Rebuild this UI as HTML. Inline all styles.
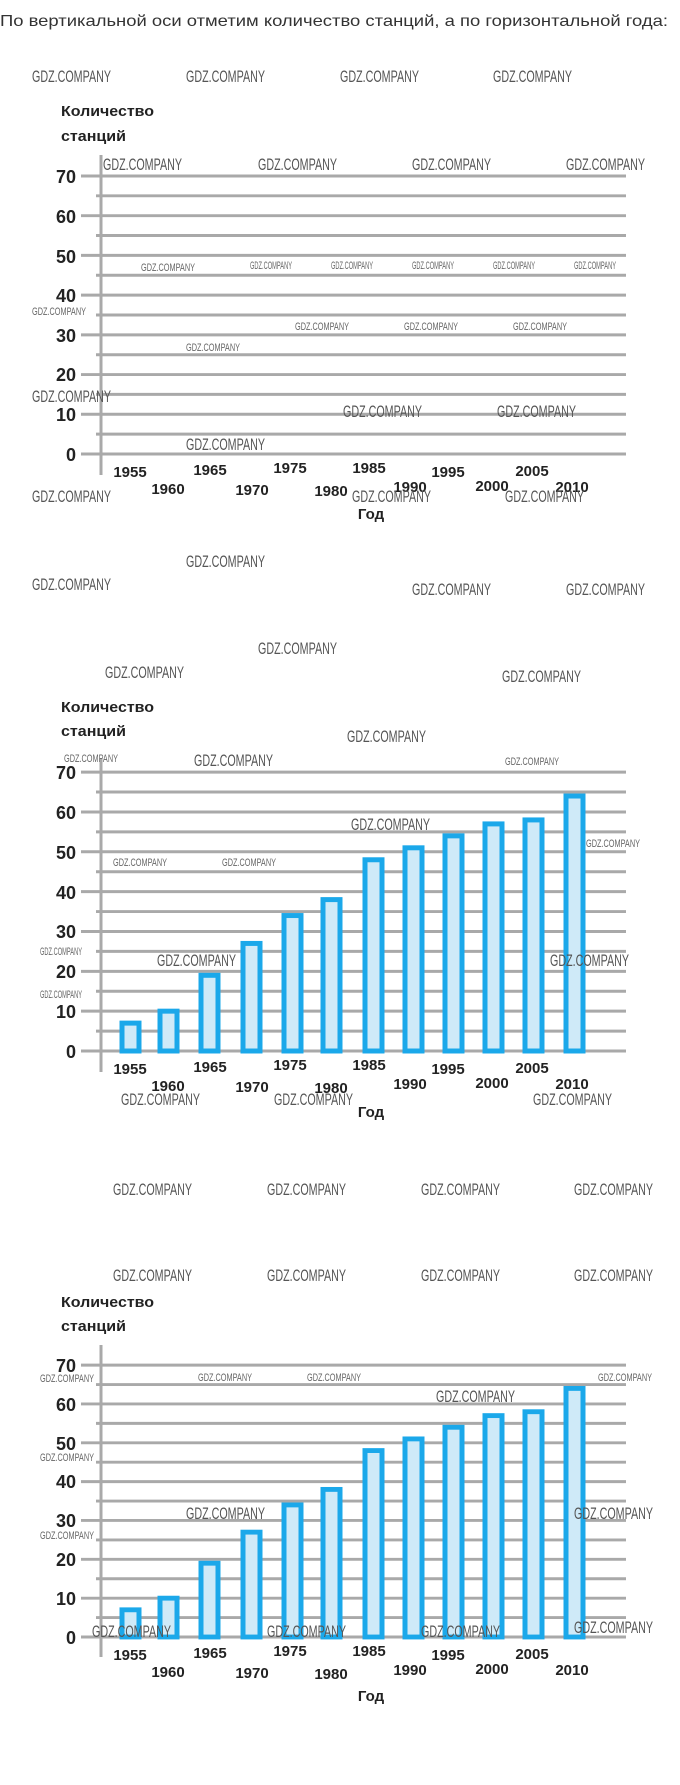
<!DOCTYPE html>
<html><head><meta charset="utf-8"><style>
html,body{margin:0;padding:0;background:#fff;}
svg{display:block;}
.t{font-family:"Liberation Sans",sans-serif;}
.wl{font-family:"Liberation Sans",sans-serif;font-size:17px;fill:#555;}
.ws{font-family:"Liberation Sans",sans-serif;font-size:11px;fill:#666;}
.yl{font-family:"Liberation Sans",sans-serif;font-size:18px;font-weight:bold;fill:#222;text-anchor:end;}
.yr{font-family:"Liberation Sans",sans-serif;font-size:15px;font-weight:bold;fill:#222;text-anchor:middle;}
.hd{font-family:"Liberation Sans",sans-serif;font-size:15px;font-weight:bold;fill:#222;}
.g line{stroke:#a9a9a9;stroke-width:3;}
.b rect{fill:#cfeaf8;stroke:#1ba8ea;stroke-width:5;}
</style></head><body>
<svg width="680" height="1785" viewBox="0 0 680 1785" xmlns="http://www.w3.org/2000/svg">
<text class="t" x="0" y="26" font-size="16" fill="#333" textLength="668" lengthAdjust="spacingAndGlyphs">По вертикальной оси отметим количество станций, а по горизонтальной года:</text>

<!-- ===== Chart 1 ===== -->
<text class="hd" x="61" y="116" textLength="93" lengthAdjust="spacingAndGlyphs">Количество</text>
<text class="hd" x="61" y="141" textLength="65" lengthAdjust="spacingAndGlyphs">станций</text>
<g class="g" transform="translate(0,454) scale(1,0.993)">
<line x1="81" y1="0" x2="626" y2="0"/><line x1="96" y1="-20" x2="626" y2="-20"/>
<line x1="81" y1="-40" x2="626" y2="-40"/><line x1="96" y1="-60" x2="626" y2="-60"/>
<line x1="81" y1="-80" x2="626" y2="-80"/><line x1="96" y1="-100" x2="626" y2="-100"/>
<line x1="81" y1="-120" x2="626" y2="-120"/><line x1="96" y1="-140" x2="626" y2="-140"/>
<line x1="81" y1="-160" x2="626" y2="-160"/><line x1="96" y1="-180" x2="626" y2="-180"/>
<line x1="81" y1="-200" x2="626" y2="-200"/><line x1="96" y1="-220" x2="626" y2="-220"/>
<line x1="81" y1="-240" x2="626" y2="-240"/><line x1="96" y1="-260" x2="626" y2="-260"/>
<line x1="81" y1="-280" x2="626" y2="-280"/>
</g>
<line x1="101" y1="155" x2="101" y2="475" stroke="#a9a9a9" stroke-width="3"/>
<text class="yl" x="76" y="461">0</text><text class="yl" x="76" y="421">10</text>
<text class="yl" x="76" y="381">20</text><text class="yl" x="76" y="342">30</text>
<text class="yl" x="76" y="302">40</text><text class="yl" x="76" y="263">50</text>
<text class="yl" x="76" y="223">60</text><text class="yl" x="76" y="183">70</text>
<text class="yr" x="130" y="477">1955</text><text class="yr" x="168" y="494">1960</text>
<text class="yr" x="210" y="475">1965</text><text class="yr" x="252" y="495">1970</text>
<text class="yr" x="290" y="473">1975</text><text class="yr" x="331" y="496">1980</text>
<text class="yr" x="369" y="473">1985</text><text class="yr" x="410" y="492">1990</text>
<text class="yr" x="448" y="477">1995</text><text class="yr" x="492" y="491">2000</text>
<text class="yr" x="532" y="476">2005</text><text class="yr" x="572" y="492">2010</text>
<text class="hd" x="371" y="519" text-anchor="middle">Год</text>
<g>
<text class="wl" x="32" y="82" textLength="79" lengthAdjust="spacingAndGlyphs">GDZ.COMPANY</text>
<text class="wl" x="186" y="82" textLength="79" lengthAdjust="spacingAndGlyphs">GDZ.COMPANY</text>
<text class="wl" x="340" y="82" textLength="79" lengthAdjust="spacingAndGlyphs">GDZ.COMPANY</text>
<text class="wl" x="493" y="82" textLength="79" lengthAdjust="spacingAndGlyphs">GDZ.COMPANY</text>
<text class="wl" x="103" y="170" textLength="79" lengthAdjust="spacingAndGlyphs">GDZ.COMPANY</text>
<text class="wl" x="258" y="170" textLength="79" lengthAdjust="spacingAndGlyphs">GDZ.COMPANY</text>
<text class="wl" x="412" y="170" textLength="79" lengthAdjust="spacingAndGlyphs">GDZ.COMPANY</text>
<text class="wl" x="566" y="170" textLength="79" lengthAdjust="spacingAndGlyphs">GDZ.COMPANY</text>
<text class="ws" x="141" y="271" font-size="13" textLength="54" lengthAdjust="spacingAndGlyphs">GDZ.COMPANY</text>
<text class="ws" x="250" y="269" font-size="9" textLength="42" lengthAdjust="spacingAndGlyphs">GDZ.COMPANY</text>
<text class="ws" x="331" y="269" font-size="9" textLength="42" lengthAdjust="spacingAndGlyphs">GDZ.COMPANY</text>
<text class="ws" x="412" y="269" font-size="9" textLength="42" lengthAdjust="spacingAndGlyphs">GDZ.COMPANY</text>
<text class="ws" x="493" y="269" font-size="9" textLength="42" lengthAdjust="spacingAndGlyphs">GDZ.COMPANY</text>
<text class="ws" x="574" y="269" font-size="9" textLength="42" lengthAdjust="spacingAndGlyphs">GDZ.COMPANY</text>
<text class="ws" x="32" y="315" font-size="13" textLength="54" lengthAdjust="spacingAndGlyphs">GDZ.COMPANY</text>
<text class="ws" x="295" y="330" font-size="13" textLength="54" lengthAdjust="spacingAndGlyphs">GDZ.COMPANY</text>
<text class="ws" x="404" y="330" font-size="13" textLength="54" lengthAdjust="spacingAndGlyphs">GDZ.COMPANY</text>
<text class="ws" x="513" y="330" font-size="13" textLength="54" lengthAdjust="spacingAndGlyphs">GDZ.COMPANY</text>
<text class="ws" x="186" y="351" font-size="13" textLength="54" lengthAdjust="spacingAndGlyphs">GDZ.COMPANY</text>
<text class="wl" x="32" y="402" textLength="79" lengthAdjust="spacingAndGlyphs">GDZ.COMPANY</text>
<text class="wl" x="343" y="417" textLength="79" lengthAdjust="spacingAndGlyphs">GDZ.COMPANY</text>
<text class="wl" x="497" y="417" textLength="79" lengthAdjust="spacingAndGlyphs">GDZ.COMPANY</text>
<text class="wl" x="186" y="450" textLength="79" lengthAdjust="spacingAndGlyphs">GDZ.COMPANY</text>
<text class="wl" x="32" y="502" textLength="79" lengthAdjust="spacingAndGlyphs">GDZ.COMPANY</text>
<text class="wl" x="352" y="502" textLength="79" lengthAdjust="spacingAndGlyphs">GDZ.COMPANY</text>
<text class="wl" x="505" y="502" textLength="79" lengthAdjust="spacingAndGlyphs">GDZ.COMPANY</text>
<text class="wl" x="186" y="567" textLength="79" lengthAdjust="spacingAndGlyphs">GDZ.COMPANY</text>
<text class="wl" x="32" y="590" textLength="79" lengthAdjust="spacingAndGlyphs">GDZ.COMPANY</text>
<text class="wl" x="412" y="595" textLength="79" lengthAdjust="spacingAndGlyphs">GDZ.COMPANY</text>
<text class="wl" x="566" y="595" textLength="79" lengthAdjust="spacingAndGlyphs">GDZ.COMPANY</text>
<text class="wl" x="258" y="654" textLength="79" lengthAdjust="spacingAndGlyphs">GDZ.COMPANY</text>
<text class="wl" x="105" y="678" textLength="79" lengthAdjust="spacingAndGlyphs">GDZ.COMPANY</text>
<text class="wl" x="502" y="682" textLength="79" lengthAdjust="spacingAndGlyphs">GDZ.COMPANY</text>
</g>

<!-- ===== Chart 2 ===== -->
<text class="hd" x="61" y="712" textLength="93" lengthAdjust="spacingAndGlyphs">Количество</text>
<text class="hd" x="61" y="736" textLength="65" lengthAdjust="spacingAndGlyphs">станций</text>
<g class="g" transform="translate(0,1051) scale(1,0.996)">
<line x1="81" y1="0" x2="626" y2="0"/><line x1="96" y1="-20" x2="626" y2="-20"/>
<line x1="81" y1="-40" x2="626" y2="-40"/><line x1="96" y1="-60" x2="626" y2="-60"/>
<line x1="81" y1="-80" x2="626" y2="-80"/><line x1="96" y1="-100" x2="626" y2="-100"/>
<line x1="81" y1="-120" x2="626" y2="-120"/><line x1="96" y1="-140" x2="626" y2="-140"/>
<line x1="81" y1="-160" x2="626" y2="-160"/><line x1="96" y1="-180" x2="626" y2="-180"/>
<line x1="81" y1="-200" x2="626" y2="-200"/><line x1="96" y1="-220" x2="626" y2="-220"/>
<line x1="81" y1="-240" x2="626" y2="-240"/><line x1="96" y1="-260" x2="626" y2="-260"/>
<line x1="81" y1="-280" x2="626" y2="-280"/>
</g>
<line x1="101" y1="758" x2="101" y2="1072" stroke="#a9a9a9" stroke-width="3"/>
<g class="b" transform="translate(0,1051) scale(1,0.996)">
<rect x="122" y="-28" width="17" height="28"/>
<rect x="160" y="-40" width="17" height="40"/>
<rect x="201" y="-76" width="17" height="76"/>
<rect x="243" y="-108" width="17" height="108"/>
<rect x="284" y="-136" width="17" height="136"/>
<rect x="323" y="-152" width="17" height="152"/>
<rect x="365" y="-192" width="17" height="192"/>
<rect x="405" y="-204" width="17" height="204"/>
<rect x="445" y="-216" width="17" height="216"/>
<rect x="485" y="-228" width="17" height="228"/>
<rect x="525" y="-232" width="17" height="232"/>
<rect x="566" y="-256" width="17" height="256"/>
</g>
<text class="yl" x="76" y="1058">0</text><text class="yl" x="76" y="1018">10</text>
<text class="yl" x="76" y="978">20</text><text class="yl" x="76" y="938">30</text>
<text class="yl" x="76" y="899">40</text><text class="yl" x="76" y="859">50</text>
<text class="yl" x="76" y="819">60</text><text class="yl" x="76" y="779">70</text>
<text class="yr" x="130" y="1074">1955</text><text class="yr" x="168" y="1091">1960</text>
<text class="yr" x="210" y="1072">1965</text><text class="yr" x="252" y="1092">1970</text>
<text class="yr" x="290" y="1070">1975</text><text class="yr" x="331" y="1093">1980</text>
<text class="yr" x="369" y="1070">1985</text><text class="yr" x="410" y="1089">1990</text>
<text class="yr" x="448" y="1074">1995</text><text class="yr" x="492" y="1088">2000</text>
<text class="yr" x="532" y="1073">2005</text><text class="yr" x="572" y="1089">2010</text>
<text class="hd" x="371" y="1117" text-anchor="middle">Год</text>
<g>
<text class="ws" x="64" y="762" textLength="54" font-size="12" lengthAdjust="spacingAndGlyphs">GDZ.COMPANY</text>
<text class="wl" x="194" y="766" textLength="79" lengthAdjust="spacingAndGlyphs">GDZ.COMPANY</text>
<text class="wl" x="347" y="742" textLength="79" lengthAdjust="spacingAndGlyphs">GDZ.COMPANY</text>
<text class="ws" x="505" y="765" textLength="54" font-size="12" lengthAdjust="spacingAndGlyphs">GDZ.COMPANY</text>
<text class="wl" x="351" y="830" textLength="79" lengthAdjust="spacingAndGlyphs">GDZ.COMPANY</text>
<text class="ws" x="586" y="847" textLength="54" font-size="13" lengthAdjust="spacingAndGlyphs">GDZ.COMPANY</text>
<text class="ws" x="113" y="866" textLength="54" font-size="12" lengthAdjust="spacingAndGlyphs">GDZ.COMPANY</text>
<text class="ws" x="222" y="866" textLength="54" font-size="12" lengthAdjust="spacingAndGlyphs">GDZ.COMPANY</text>
<text class="ws" x="40" y="955" textLength="42" font-size="9" lengthAdjust="spacingAndGlyphs">GDZ.COMPANY</text>
<text class="wl" x="157" y="966" textLength="79" lengthAdjust="spacingAndGlyphs">GDZ.COMPANY</text>
<text class="wl" x="550" y="966" textLength="79" lengthAdjust="spacingAndGlyphs">GDZ.COMPANY</text>
<text class="ws" x="40" y="998" textLength="42" font-size="9" lengthAdjust="spacingAndGlyphs">GDZ.COMPANY</text>
<text class="wl" x="121" y="1105" textLength="79" lengthAdjust="spacingAndGlyphs">GDZ.COMPANY</text>
<text class="wl" x="274" y="1105" textLength="79" lengthAdjust="spacingAndGlyphs">GDZ.COMPANY</text>
<text class="wl" x="533" y="1105" textLength="79" lengthAdjust="spacingAndGlyphs">GDZ.COMPANY</text>
<text class="wl" x="113" y="1195" textLength="79" lengthAdjust="spacingAndGlyphs">GDZ.COMPANY</text>
<text class="wl" x="267" y="1195" textLength="79" lengthAdjust="spacingAndGlyphs">GDZ.COMPANY</text>
<text class="wl" x="421" y="1195" textLength="79" lengthAdjust="spacingAndGlyphs">GDZ.COMPANY</text>
<text class="wl" x="574" y="1195" textLength="79" lengthAdjust="spacingAndGlyphs">GDZ.COMPANY</text>
<text class="wl" x="113" y="1281" textLength="79" lengthAdjust="spacingAndGlyphs">GDZ.COMPANY</text>
<text class="wl" x="267" y="1281" textLength="79" lengthAdjust="spacingAndGlyphs">GDZ.COMPANY</text>
<text class="wl" x="421" y="1281" textLength="79" lengthAdjust="spacingAndGlyphs">GDZ.COMPANY</text>
<text class="wl" x="574" y="1281" textLength="79" lengthAdjust="spacingAndGlyphs">GDZ.COMPANY</text>
</g>

<!-- ===== Chart 3 ===== -->
<text class="hd" x="61" y="1307" textLength="93" lengthAdjust="spacingAndGlyphs">Количество</text>
<text class="hd" x="61" y="1331" textLength="65" lengthAdjust="spacingAndGlyphs">станций</text>
<g class="g" transform="translate(0,1637) scale(1,0.971)">
<line x1="81" y1="0" x2="626" y2="0"/><line x1="96" y1="-20" x2="626" y2="-20"/>
<line x1="81" y1="-40" x2="626" y2="-40"/><line x1="96" y1="-60" x2="626" y2="-60"/>
<line x1="81" y1="-80" x2="626" y2="-80"/><line x1="96" y1="-100" x2="626" y2="-100"/>
<line x1="81" y1="-120" x2="626" y2="-120"/><line x1="96" y1="-140" x2="626" y2="-140"/>
<line x1="81" y1="-160" x2="626" y2="-160"/><line x1="96" y1="-180" x2="626" y2="-180"/>
<line x1="81" y1="-200" x2="626" y2="-200"/><line x1="96" y1="-220" x2="626" y2="-220"/>
<line x1="81" y1="-240" x2="626" y2="-240"/><line x1="96" y1="-260" x2="626" y2="-260"/>
<line x1="81" y1="-280" x2="626" y2="-280"/>
</g>
<line x1="101" y1="1345" x2="101" y2="1657" stroke="#a9a9a9" stroke-width="3"/>
<g class="b" transform="translate(0,1637) scale(1,0.971)">
<rect x="122" y="-28" width="17" height="28"/>
<rect x="160" y="-40" width="17" height="40"/>
<rect x="201" y="-76" width="17" height="76"/>
<rect x="243" y="-108" width="17" height="108"/>
<rect x="284" y="-136" width="17" height="136"/>
<rect x="323" y="-152" width="17" height="152"/>
<rect x="365" y="-192" width="17" height="192"/>
<rect x="405" y="-204" width="17" height="204"/>
<rect x="445" y="-216" width="17" height="216"/>
<rect x="485" y="-228" width="17" height="228"/>
<rect x="525" y="-232" width="17" height="232"/>
<rect x="566" y="-256" width="17" height="256"/>
</g>
<text class="yl" x="76" y="1644">0</text><text class="yl" x="76" y="1605">10</text>
<text class="yl" x="76" y="1566">20</text><text class="yl" x="76" y="1527">30</text>
<text class="yl" x="76" y="1488">40</text><text class="yl" x="76" y="1450">50</text>
<text class="yl" x="76" y="1411">60</text><text class="yl" x="76" y="1372">70</text>
<text class="yr" x="130" y="1660">1955</text><text class="yr" x="168" y="1677">1960</text>
<text class="yr" x="210" y="1658">1965</text><text class="yr" x="252" y="1678">1970</text>
<text class="yr" x="290" y="1656">1975</text><text class="yr" x="331" y="1679">1980</text>
<text class="yr" x="369" y="1656">1985</text><text class="yr" x="410" y="1675">1990</text>
<text class="yr" x="448" y="1660">1995</text><text class="yr" x="492" y="1674">2000</text>
<text class="yr" x="532" y="1659">2005</text><text class="yr" x="572" y="1675">2010</text>
<text class="hd" x="371" y="1701" text-anchor="middle">Год</text>
<g>
<text class="ws" x="40" y="1382" textLength="54" font-size="12" lengthAdjust="spacingAndGlyphs">GDZ.COMPANY</text>
<text class="ws" x="198" y="1381" textLength="54" font-size="12" lengthAdjust="spacingAndGlyphs">GDZ.COMPANY</text>
<text class="ws" x="307" y="1381" textLength="54" font-size="12" lengthAdjust="spacingAndGlyphs">GDZ.COMPANY</text>
<text class="ws" x="598" y="1381" textLength="54" font-size="12" lengthAdjust="spacingAndGlyphs">GDZ.COMPANY</text>
<text class="wl" x="436" y="1402" textLength="79" lengthAdjust="spacingAndGlyphs">GDZ.COMPANY</text>
<text class="ws" x="40" y="1461" textLength="54" font-size="12" lengthAdjust="spacingAndGlyphs">GDZ.COMPANY</text>
<text class="wl" x="186" y="1519" textLength="79" lengthAdjust="spacingAndGlyphs">GDZ.COMPANY</text>
<text class="wl" x="574" y="1519" textLength="79" lengthAdjust="spacingAndGlyphs">GDZ.COMPANY</text>
<text class="ws" x="40" y="1539" textLength="54" font-size="12" lengthAdjust="spacingAndGlyphs">GDZ.COMPANY</text>
<text class="wl" x="92" y="1637" textLength="79" lengthAdjust="spacingAndGlyphs">GDZ.COMPANY</text>
<text class="wl" x="267" y="1637" textLength="79" lengthAdjust="spacingAndGlyphs">GDZ.COMPANY</text>
<text class="wl" x="421" y="1637" textLength="79" lengthAdjust="spacingAndGlyphs">GDZ.COMPANY</text>
<text class="wl" x="574" y="1633" textLength="79" lengthAdjust="spacingAndGlyphs">GDZ.COMPANY</text>
</g>
</svg>
</body></html>
